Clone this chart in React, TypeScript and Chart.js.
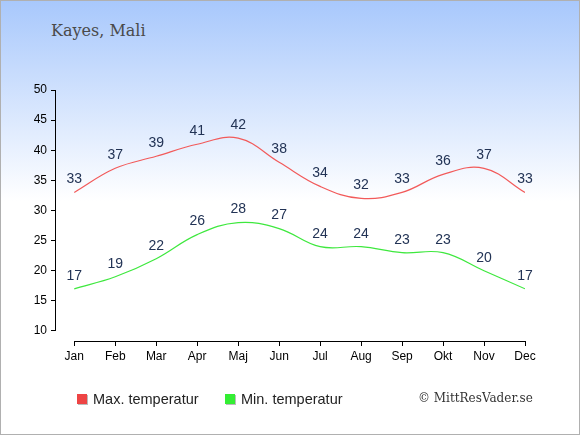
import { useEffect, useRef } from 'react';
import { Chart, registerables, Plugin } from 'chart.js';

Chart.register(...registerables);

const months = ['Jan', 'Feb', 'Mar', 'Apr', 'Maj', 'Jun', 'Jul', 'Aug', 'Sep', 'Okt', 'Nov', 'Dec'];
const maxTemp = [33, 37, 39, 41, 42, 38, 34, 32, 33, 36, 37, 33];
const minTemp = [17, 19, 22, 26, 28, 27, 24, 24, 23, 23, 20, 17];
const yTicks = [10, 15, 20, 25, 30, 35, 40, 45, 50];

const maxColor = '#f25a5a';
const minColor = '#3ee83e';
const series = [maxTemp, minTemp];

// axes lines + value labels, drawn by hand like the original
const overlay: Plugin<'line'> = {
  id: 'overlay',
  afterDatasetsDraw(chart) {
    const { ctx } = chart;
    const x = chart.scales.x;
    const y = chart.scales.y;
    ctx.save();
    ctx.strokeStyle = '#000';
    ctx.lineWidth = 1;
    ctx.beginPath();
    const ax = Math.round(chart.chartArea.left) + 0.5;
    ctx.moveTo(ax, y.getPixelForValue(50));
    ctx.lineTo(ax, y.getPixelForValue(10));
    const by = Math.round(chart.chartArea.bottom) + 0.5;
    ctx.moveTo(x.getPixelForValue(0), by);
    ctx.lineTo(x.getPixelForValue(11), by);
    ctx.stroke();

    ctx.fillStyle = '#223355';
    ctx.font = '14px "Liberation Sans", Arial, sans-serif';
    ctx.textAlign = 'center';
    ctx.textBaseline = 'middle';
    series.forEach((values, i) => {
      const meta = chart.getDatasetMeta(i);
      meta.data.forEach((pt, j) => {
        ctx.fillText(String(values[j]), pt.x, pt.y - 13);
      });
    });
    ctx.restore();
  },
};

function TempChart() {
  const chartRef = useRef<HTMLCanvasElement>(null);
  const chartInstance = useRef<Chart | null>(null);

  useEffect(() => {
    if (!chartRef.current) return;
    const ctx = chartRef.current.getContext('2d');
    if (!ctx) return;
    if (chartInstance.current) chartInstance.current.destroy();

    chartInstance.current = new Chart(ctx, {
      type: 'line',
      data: {
        datasets: [
          {
            label: 'Max. temperatur',
            data: maxTemp.map((v, i) => ({ x: i, y: v })) as any,
            borderColor: maxColor,
            borderWidth: 1.2,
            pointRadius: 0,
            tension: 0.4,
            fill: false,
          },
          {
            label: 'Min. temperatur',
            data: minTemp.map((v, i) => ({ x: i, y: v })) as any,
            borderColor: minColor,
            borderWidth: 1.2,
            pointRadius: 0,
            tension: 0.4,
            fill: false,
          },
        ],
      },
      options: {
        animation: false,
        responsive: false,
        maintainAspectRatio: false,
        layout: { padding: { left: 0, top: 89, right: 54, bottom: 63 } },
        plugins: {
          legend: { display: false },
          title: { display: false },
          tooltip: { enabled: false },
        },
        scales: {
          x: {
            type: 'linear',
            min: -0.47,
            max: 11,
            afterFit: (s: any) => { s.height = 30; },
            afterBuildTicks: (s: any) => { s.ticks = months.map((_, i) => ({ value: i })); },
            border: { display: false },
            grid: { drawOnChartArea: false, drawTicks: true, tickLength: 5, color: '#000' },
            ticks: {
              color: '#000',
              padding: 3,
              font: { family: '"Liberation Sans", Arial, sans-serif', size: 12 },
              callback: (v: any) => months[v] ?? '',
            },
          },
          y: {
            min: 8.34,
            max: 50,
            afterFit: (s: any) => { s.width = 54; },
            afterBuildTicks: (s: any) => { s.ticks = yTicks.map(v => ({ value: v })); },
            border: { display: false },
            grid: { drawOnChartArea: false, drawTicks: true, tickLength: 4, color: '#000' },
            ticks: {
              color: '#000',
              padding: 4,
              font: { family: '"Liberation Sans", Arial, sans-serif', size: 12 },
            },
          },
        },
      },
      plugins: [overlay],
    });

    return () => {
      if (chartInstance.current) {
        chartInstance.current.destroy();
        chartInstance.current = null;
      }
    };
  }, []);

  return <canvas ref={chartRef} width={578} height={433} style={{ position: 'absolute', left: 0, top: 0, width: 578, height: 433 }} />;
}

const legendSquare = (color: string) => ({
  position: 'absolute' as const,
  width: 10,
  height: 10,
  background: color,
  boxShadow: '1px 1px 0 #bbb',
});

const legendText = {
  position: 'absolute' as const,
  fontFamily: '"Liberation Sans", Arial, sans-serif',
  fontSize: 14.5,
  color: '#222',
  lineHeight: '16px',
};

export default function App() {
  useEffect(() => {
    document.body.style.margin = '0';
  }, []);

  return (
    <div
      style={{
        position: 'relative',
        width: 580,
        height: 435,
        boxSizing: 'border-box',
        border: '1px solid #b0b0b0',
        background: 'linear-gradient(to bottom, #a8c8fc 0px, #ffffff 200px, #ffffff 435px)',
        overflow: 'hidden',
      }}
    >
      <div
        style={{
          position: 'absolute',
          left: 50,
          top: 21,
          fontFamily: '"DejaVu Serif", serif',
          fontSize: 16,
          color: '#4a4a4a',
          lineHeight: '18px',
        }}
      >
        Kayes, Mali
      </div>
      <TempChart />
      <div style={{ ...legendSquare('#ee4444'), left: 76, top: 393 }} />
      <div style={{ ...legendText, left: 92, top: 390 }}>Max. temperatur</div>
      <div style={{ ...legendSquare('#33ee33'), left: 224, top: 393 }} />
      <div style={{ ...legendText, left: 240, top: 390 }}>Min. temperatur</div>
      <div
        style={{
          position: 'absolute',
          left: 417,
          top: 389,
          fontFamily: '"DejaVu Serif", serif',
          fontSize: 12,
          color: '#333',
          lineHeight: '16px',
        }}
      >
        © MittResVader.se
      </div>
    </div>
  );
}
